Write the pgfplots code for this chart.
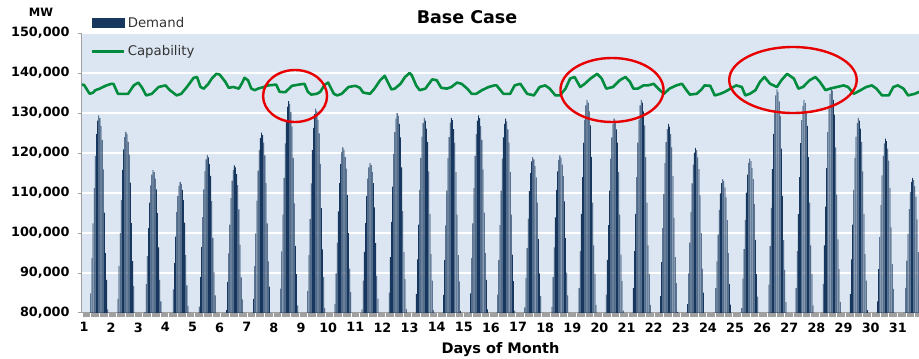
\documentclass[border=0pt]{standalone}
\usepackage{fontspec}
\setmainfont{DejaVu Sans}
\usepackage{pgfplots}
\usepackage{pgfplotstable}
\pgfplotsset{compat=1.18}

\definecolor{navy}{RGB}{23,55,94}
\definecolor{capgreen}{RGB}{0,140,60}
\definecolor{bgblue}{RGB}{220,230,242}
\definecolor{ellred}{RGB}{232,0,0}
\definecolor{axgrey}{RGB}{160,160,160}

% hourly demand (thousand MW), hours 5..22 of each day
\pgfplotstableread{
day h5 h6 h7 h8 h9 h10 h11 h12 h13 h14 h15 h16 h17 h18 h19 h20 h21 h22
1  76.8 84.9 93.7 102.4 111.2 119.3 124.7 128.1 129.4 128.7 126.7 123.3 115.9 105.1 95.0 88.3 80.9 75.5
2  75.9 83.5 91.8 100.0 108.2 115.8 120.9 124.0 125.3 124.7 122.8 119.6 112.6 102.5 93.0 86.7 79.7 74.7
3  73.8 80.3 87.2 94.2 101.2 107.6 111.9 114.6 115.7 115.2 113.6 110.9 105.0 96.4 88.3 82.9 77.0 72.7
4  73.2 79.3 85.9 92.5 99.1 105.2 109.2 111.8 112.8 112.3 110.8 108.2 102.6 94.5 86.9 81.8 76.2 72.2
5  74.7 81.6 89.0 96.5 104.0 110.9 115.5 118.4 119.5 118.9 117.2 114.3 108.0 98.8 90.2 84.4 78.1 73.5
6  74.1 80.7 87.8 94.9 102.1 108.7 113.1 115.8 116.9 116.4 114.7 112.0 105.9 97.1 88.9 83.4 77.4 73.0
7  75.9 83.5 91.7 99.9 108.1 115.6 120.7 123.8 125.1 124.5 122.6 119.4 112.5 102.4 92.9 86.6 79.7 74.6
8  77.6 86.1 95.4 104.6 113.8 122.4 128.0 131.6 133.0 132.3 130.2 126.6 118.8 107.4 96.8 89.7 81.9 76.2
9  77.2 85.5 94.5 103.5 112.4 120.7 126.3 129.7 131.1 130.4 128.3 124.9 117.3 106.2 95.9 89.0 81.3 75.8
10 75.1 82.2 89.9 97.6 105.4 112.5 117.2 120.2 121.4 120.8 119.0 116.1 109.5 100.0 91.1 85.2 78.6 73.9
11 74.2 80.9 88.1 95.3 102.5 109.2 113.6 116.4 117.5 117.0 115.3 112.5 106.4 97.5 89.2 83.6 77.5 73.1
12 77.0 85.1 94.0 102.8 111.6 119.8 125.2 128.6 130.0 129.3 127.3 123.9 116.4 105.5 95.3 88.5 81.0 75.6
13 76.7 84.7 93.4 102.1 110.8 118.8 124.1 127.5 128.8 128.1 126.1 122.8 115.4 104.8 94.7 88.1 80.7 75.4
14 76.5 84.5 93.2 101.9 110.6 118.7 124.0 127.6 128.8 128.2 126.0 122.6 115.2 104.6 94.5 87.9 80.5 75.2
15 76.8 84.9 93.7 102.4 111.2 119.3 124.7 128.1 129.4 128.7 126.7 123.3 115.9 105.1 95.0 88.3 80.9 75.5
16 76.7 84.6 93.3 102.0 110.6 118.6 123.9 127.3 128.6 127.9 125.9 122.6 115.3 104.6 94.6 88.0 80.6 75.3
17 74.5 81.4 88.8 96.2 103.6 110.5 115.0 117.9 119.0 118.4 116.7 113.9 107.6 98.5 89.9 84.2 78.0 73.4
18 74.6 81.5 89.0 96.4 103.9 110.8 115.4 118.3 119.4 118.8 117.1 114.2 107.9 98.7 90.1 84.4 78.1 73.5
19 77.7 86.2 95.5 104.8 114.0 122.6 128.3 131.9 133.3 132.6 130.4 126.9 119.0 107.6 96.9 89.8 82.0 76.3
20 76.7 84.6 93.3 102.0 110.6 118.6 123.9 127.3 128.6 127.9 125.9 122.6 115.3 104.6 94.6 88.0 80.6 75.3
21 77.7 86.2 95.5 104.8 114.0 122.6 128.3 131.9 133.3 132.6 130.4 126.9 119.0 107.6 96.9 89.8 82.0 76.3
22 76.4 84.2 92.7 101.2 109.7 117.5 122.7 126.0 127.3 126.6 124.7 121.4 114.2 103.8 94.0 87.5 80.3 75.1
23 75.0 82.2 89.9 97.6 105.3 112.4 117.1 120.1 121.3 120.7 118.9 116.0 109.4 100.0 91.1 85.1 78.6 73.9
24 73.3 79.5 86.2 92.9 99.6 105.8 109.9 112.5 113.5 113.0 111.4 108.9 103.2 95.0 87.2 82.1 76.4 72.3
25 74.5 81.2 88.6 96.0 103.3 110.1 114.6 117.5 118.6 118.0 116.3 113.5 107.3 98.2 89.7 84.1 77.8 73.3
26 78.3 87.1 96.7 106.3 116.0 124.8 130.7 134.4 135.9 135.2 132.9 129.2 121.1 109.3 98.2 90.8 82.7 76.8
27 77.7 86.2 95.5 104.7 114.0 122.5 128.2 131.8 133.2 132.5 130.4 126.8 119.0 107.6 96.9 89.8 81.9 76.2
28 78.3 87.3 96.9 106.6 116.2 125.2 131.1 134.8 136.3 135.6 133.3 129.6 121.4 109.6 98.4 91.0 82.8 76.9
29 76.7 84.7 93.4 102.1 110.8 118.8 124.1 127.5 128.8 128.1 126.1 122.8 115.4 104.8 94.7 88.1 80.7 75.4
30 75.6 82.9 91.0 99.0 107.0 114.4 119.3 122.4 123.6 123.0 121.1 118.1 111.3 101.4 92.2 86.0 79.2 74.3
31 73.4 79.6 86.3 93.1 99.8 106.0 110.2 112.8 113.8 113.3 111.7 109.1 103.4 95.2 87.4 82.2 76.5 72.4
}\demand

% capability (thousand MW) against hour of month
\pgfplotstableread{
h c
-2 137.1
0 137.0
5 134.8
8 135.1
10 135.7
14 136.1
19 136.8
24 137.3
26 137.3
30 134.8
39 134.8
44 136.9
48 137.6
51 136.5
55 134.4
60 134.8
66 136.5
72 136.9
76 135.7
82 134.4
86 134.8
91 136.5
97 138.8
100 139.0
103 136.5
106 136.1
110 137.3
113 138.6
117 139.8
120 139.6
125 137.8
128 136.3
132 136.5
137 136.1
140 137.6
142 138.8
145 138.2
148 136.1
151 135.7
154 136.1
159 136.5
163 136.9
170 137.1
173 135.3
178 135.2
184 136.8
190 137.1
195 137.3
198 135.3
201 134.6
206 134.8
209 135.3
213 137.1
216 137.6
221 134.8
224 134.4
228 134.8
234 136.5
240 136.8
244 136.3
247 135.1
253 134.8
257 136.1
262 138.2
266 139.3
269 137.6
272 135.9
275 136.1
280 137.3
284 139.0
288 140.0
290 139.4
294 136.8
297 135.7
302 136.1
308 138.4
312 138.2
316 136.3
321 136.1
325 136.5
330 137.6
334 137.3
339 136.1
343 134.8
347 134.8
352 135.7
358 136.5
363 136.9
365 136.9
371 134.8
377 134.8
381 136.9
386 137.3
392 134.8
398 134.4
403 136.5
408 136.9
412 136.1
417 134.4
421 134.4
426 136.1
430 138.6
434 139.0
439 136.5
443 137.3
448 138.6
454 139.8
458 138.6
462 136.1
468 136.5
474 138.2
479 139.0
483 137.8
486 136.1
490 136.1
495 136.9
499 136.9
504 137.3
508 136.1
513 134.8
518 136.1
524 136.9
529 137.3
533 135.7
536 134.6
542 134.8
546 135.8
549 136.9
554 136.8
558 134.4
563 134.8
567 135.3
572 136.1
577 136.9
582 136.5
585 134.4
589 134.8
594 135.7
598 137.8
602 139.0
607 137.3
613 136.5
617 138.2
622 139.8
628 138.6
632 136.1
636 136.5
642 138.2
647 139.0
651 137.8
656 135.7
660 136.1
666 136.5
672 136.9
676 136.5
681 134.8
687 135.7
692 136.5
697 136.9
701 136.1
706 134.4
712 134.4
716 136.5
720 136.9
725 136.1
729 134.4
735 134.8
739 135.3
744 135.8
}\capab

\begin{document}
\begin{tikzpicture}
\begin{axis}[
    scale only axis,
    width=837pt,
    height=280pt,
    xmin=-1.8, xmax=738.7,
    ymin=80, ymax=150,
    axis background/.style={fill=bgblue},
    axis x line*=bottom,
    axis y line*=left,
    axis line style={axgrey, line width=1pt},
    xtick={0,24,...,720},
    xticklabels={1,2,3,4,5,6,7,8,9,10,11,12,13,14,15,16,17,18,19,20,21,22,23,24,25,26,27,28,29,30,31},
    minor xtick={-1,0,...,738},
    ytick={80,90,...,150},
    yticklabels={{80,000},{90,000},{100,000},{110,000},{120,000},{130,000},{140,000},{150,000}},
    tick align=outside,
    major tick length=4pt,
    minor tick length=4pt,
    tick style={axgrey, line width=0.6pt},
    ytick style={axgrey, line width=1pt},
    ymajorgrids,
    major grid style={white, line width=2.2pt},
    tick label style={font=\bfseries\fontsize{12.8}{15}\selectfont},
    /pgf/number format/assume math mode=true,
    xticklabel style={yshift=-2pt},
    yticklabel style={xshift=-5pt},
    xlabel={Days of Month},
    xlabel style={font=\bfseries\fontsize{14.5}{16}\selectfont, yshift=-3pt},
    legend style={at={(axis description cs:0,1)}, anchor=north west,
        xshift=9pt, yshift=18pt, draw=none, fill=none, inner sep=0pt,
        row sep=13pt, font=\fontsize{13.3}{15}\selectfont, text=black!80},
    legend cell align=left,
]
\addlegendimage{legend image code/.code={\fill[navy] (0pt,-4.5pt) rectangle (32pt,4.5pt);}}
\addlegendentry{Demand}

\pgfplotsinvokeforeach{5,...,22}{
  \addplot[ybar, bar width=0.72, bar shift=0pt, fill=navy, draw=none, forget plot]
    table[x expr={24*(\thisrow{day}-1)+#1}, y=h#1]{\demand};
}

\addplot[capgreen, line width=2.6pt, line join=round,
    legend image code/.code={\draw[capgreen, line width=2.6pt] (0pt,0pt) -- (32pt,0pt);}]
    table[x=h, y=c]{\capab};
\addlegendentry{Capability}

\draw[ellred, line width=2.4pt] (axis cs:186.7,134.25) ellipse [x radius=28.3, y radius=6.5];
\draw[ellred, line width=2.4pt] (axis cs:467.1,135.75) ellipse [x radius=45.6, y radius=8.0];
\draw[ellred, line width=2.4pt] (axis cs:627.2,138.25) ellipse [x radius=56.4, y radius=8.25];

\coordinate (O) at (rel axis cs:0,0);
\end{axis}
\node[font=\bfseries\fontsize{17.5}{20}\selectfont] at ([xshift=385pt,yshift=296pt]O) {Base Case};
\node[font=\bfseries\fontsize{11.5}{13}\selectfont] at ([xshift=-41pt,yshift=301pt]O) {MW};
\pgfresetboundingbox
\path (O) ++(-82pt,-46pt) rectangle ++(919pt,359pt);
\end{tikzpicture}
\end{document}
